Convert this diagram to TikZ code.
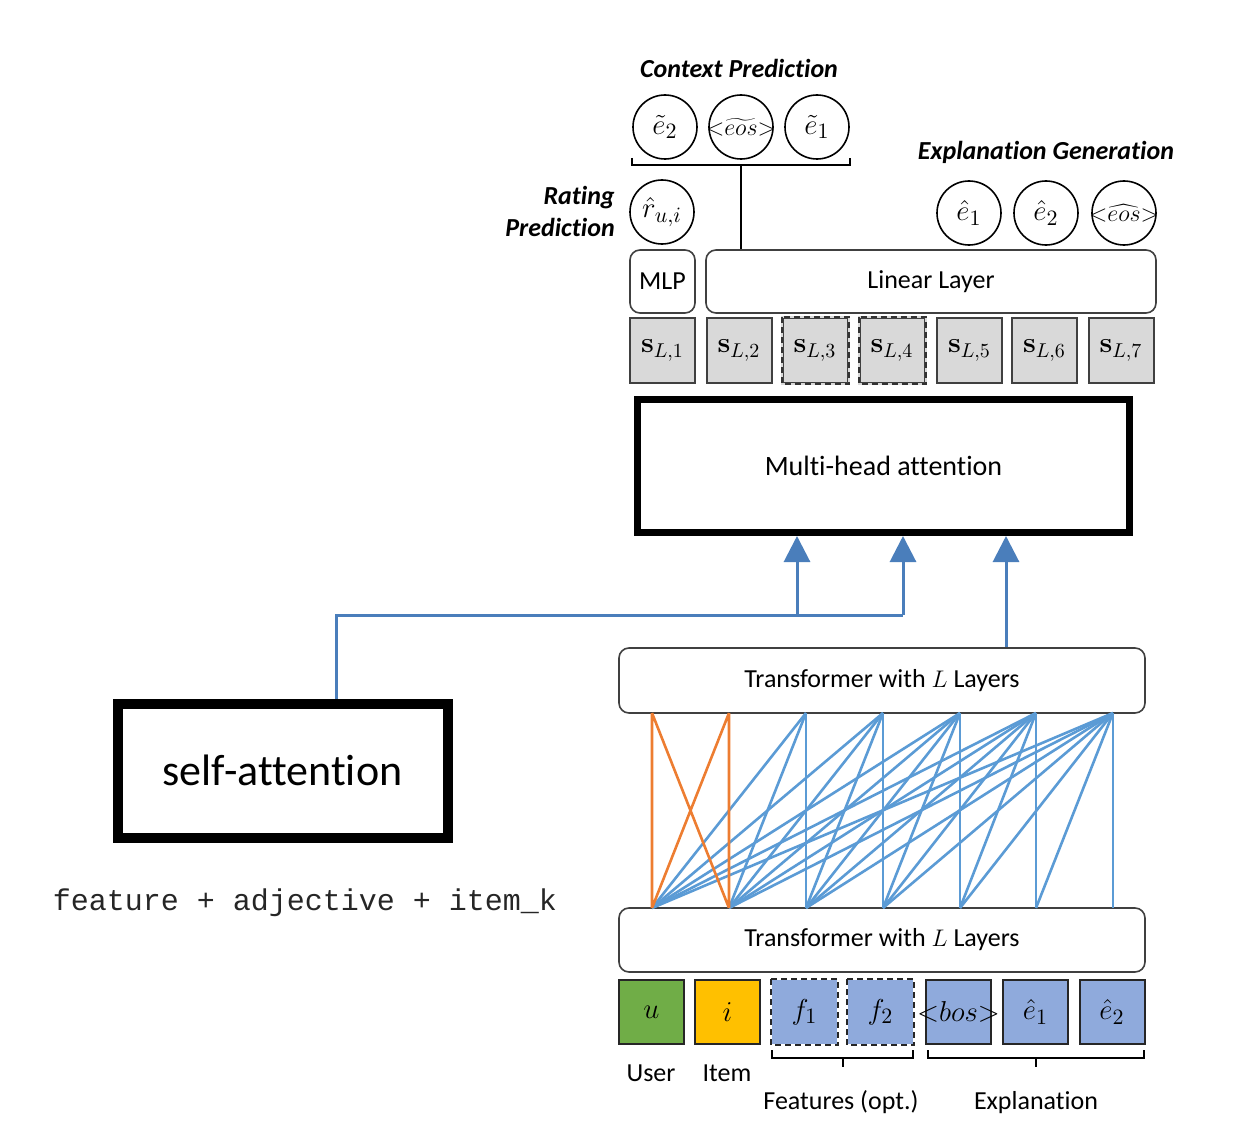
\documentclass[tikz,border=0pt]{standalone}
\usepackage[no-math]{fontspec}
\setmainfont{Carlito}[Ligatures=CommonOff]
\newfontfamily\codefont{Liberation Mono}
\usetikzlibrary{arrows.meta}
\definecolor{flowblue}{RGB}{74,126,187}
\definecolor{attblue}{RGB}{91,155,213}
\definecolor{attorange}{RGB}{237,125,49}
\definecolor{usergreen}{RGB}{112,173,71}
\definecolor{itemyellow}{RGB}{255,192,0}
\definecolor{tokblue}{RGB}{143,170,220}
\definecolor{stategray}{RGB}{217,217,217}
\newcommand{\eostok}[1]{\makebox[26pt][c]{\fontsize{13}{15}\selectfont$\mathord{<}#1{eos}\mathord{>}$}}
\begin{document}
\begin{tikzpicture}[x=0.5pt, y=-0.5pt,
    txt/.style={font=\fontsize{13}{15}\selectfont},
    title/.style={font=\fontsize{13}{16}\selectfont\bfseries\itshape, align=right},
    outcircle/.style={circle, draw, line width=0.8pt, minimum size=32pt, inner sep=0pt, font=\fontsize{15}{17}\selectfont},
    layer/.style={draw=black!75, line width=0.8pt, rounded corners=5pt, txt},
    state/.style={draw=black!75, line width=1pt, fill=stategray, minimum size=32.5pt, inner sep=0pt, font=\fontsize{14}{16}\selectfont},
    token/.style={draw=black!85, line width=1pt, minimum width=32.5pt, minimum height=32pt, inner sep=0pt, font=\fontsize{15}{17}\selectfont},
    opt/.style={dashed, dash pattern=on 3pt off 2pt},
    bracket/.style={line width=1.2pt},
    flow/.style={draw=flowblue, line width=1.5pt},
    flowarrow/.style={flow, -{Triangle[length=13pt, width=13pt]}},
    attb/.style={draw=attblue, line width=1.3pt},
    atto/.style={draw=attorange, line width=1.3pt}]
  \useasboundingbox (0,0) rectangle (1238,1129);

  % outputs
  \node[title] (ctxtitle) at (739,68) {Context Prediction};
  \node[outcircle] (c1) at (665,127) {$\tilde{e}_2$};
  \node[outcircle] (c2) at (741,127) {\eostok{\widetilde}};
  \node[outcircle] (c3) at (817,127) {$\tilde{e}_1$};
  \node[title] (rattitle) at (560,211) {Rating\\Prediction};
  \node[outcircle] (r) at (662,212) {$\hat{r}_{u,i}$};
  \node[title] (exptitle) at (1046,152) {Explanation Generation};
  \node[outcircle] (g1) at (969,213) {$\hat{e}_1$};
  \node[outcircle] (g2) at (1046,213) {$\hat{e}_2$};
  \node[outcircle] (g3) at (1124,213) {\eostok{\widehat}};

  \node[layer, minimum width=32.5pt, minimum height=31.5pt] (mlp) at (662.5,281.5) {MLP};
  \node[layer, minimum width=225pt, minimum height=31.5pt] (lin) at (931,281.5) {Linear Layer};
  \draw[bracket] (632,158) -- (632,165) -- (850,165) -- (850,158);
  \draw[bracket] (741,165) -- (lin.north -| 741,0);

  % hidden states
  \foreach \x [count=\k] in {662.5,739,815,892,969.5,1044.5,1121} {
    \node[state] (s\k) at (\x,350.5) {$\mathbf{s}_{L,\k}$};
  }
  \draw[stategray, line width=1pt] (s3.north west) rectangle (s3.south east) (s4.north west) rectangle (s4.south east);
  \draw[black!80, line width=1pt, opt] (s3.north west) rectangle (s3.south east) (s4.north west) rectangle (s4.south east);

  \node[draw, line width=3.5pt, minimum width=246pt, minimum height=66.5pt, font=\fontsize{14}{16}\selectfont] (mha) at (883.5,466) {Multi-head attention};

  % transformers
  \node[layer, minimum width=263pt, minimum height=32.5pt] (tt) at (882,680.5) {Transformer with $L$ Layers};
  \node[layer, minimum width=263pt, minimum height=32pt] (tb) at (882,940) {Transformer with $L$ Layers};

  \foreach \x [count=\k] in {652,729,806,883,960,1036,1113} {
    \coordinate (t\k) at (\x,713);
    \coordinate (b\k) at (\x,908);
  }
  \foreach \j in {3,...,7}
    \foreach \i in {1,...,\j}
      \draw[attb] (b\i) -- (t\j);
  \draw[atto] (b1) -- (t1) (b2) -- (t2) (b1) -- (t2) (b2) -- (t1);

  % input tokens
  \node[token, fill=usergreen] (u) at (651.5,1012) {$u$};
  \node[token, fill=itemyellow] (i) at (727.5,1012) {$i$};
  \node[token, fill=tokblue, draw=none] (f1) at (804.5,1012) {$f_1$};
  \node[token, fill=tokblue, draw=none] (f2) at (880.5,1012) {$f_2$};
  \draw[black!85, line width=1pt, opt] (f1.north west) rectangle (f1.south east) (f2.north west) rectangle (f2.south east);
  \node[token, fill=tokblue] (bos) at (958.5,1012) {\makebox[30pt][c]{\fontsize{14}{16}\selectfont$\mathord{<}bos\mathord{>}$}};
  \node[token, fill=tokblue] (e1) at (1035.5,1012) {$\hat{e}_1$};
  \node[token, fill=tokblue] (e2) at (1112,1012) {$\hat{e}_2$};

  \node[txt] (user) at (651,1073) {User};
  \node[txt] (item) at (727,1073) {Item};
  \draw[bracket] (772,1050) -- (772,1058) -- (913,1058) -- (913,1050);
  \draw[bracket] (843,1058) -- (843,1067);
  \node[txt] (feat) at (841,1102) {Features (opt.)};
  \draw[bracket] (928,1050) -- (928,1058) -- (1144,1058) -- (1144,1050);
  \draw[bracket] (1036,1058) -- (1036,1067);
  \node[txt] (expl) at (1036,1103) {Explanation};

  % side branch
  \node[draw, line width=5pt, minimum width=165pt, minimum height=67pt, font=\fontsize{22}{24}\selectfont] (sa) at (282.5,770.5) {self-attention};
  \node[font=\codefont\fontsize{15}{17}\selectfont, text=black!85] (code) at (305,903) {feature + adjective + item\_k};

  \coordinate (j) at (336,615);
  \coordinate (in1) at (797,615);
  \coordinate (in2) at (903,615);
  \coordinate (in3) at (1006,648);
  \draw[flow] (sa.north -| j) |- (in2);
  \draw[flowarrow] (in1) -- (in1 |- mha.south);
  \draw[flowarrow] (in2) -- (in2 |- mha.south);
  \draw[flowarrow] (tt.north -| in3) -- (in3 |- mha.south);
\end{tikzpicture}
\end{document}
